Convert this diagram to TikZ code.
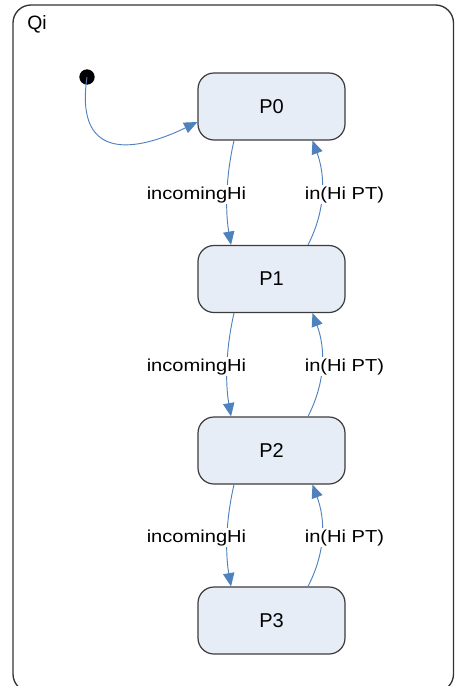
\documentclass[tikz,border=0pt]{standalone}
\usepackage{graphicx}
\usepackage{fontspec}
\setmainfont{Liberation Sans}
\usetikzlibrary{arrows.meta,calc}
\definecolor{edgeblue}{HTML}{4F81BD}
\definecolor{statefill}{HTML}{E7EDF7}
\definecolor{stateline}{HTML}{3C3C3C}
\begin{document}
\begin{tikzpicture}[x=0.75pt,y=-0.75pt,
  frame/.style={draw=black!80, line width=1pt, rounded corners=13.5pt},
  state/.style={draw=stateline, line width=0.9pt, fill=statefill,
    rounded corners=12pt, minimum width=110.25pt, minimum height=50.25pt,
    inner sep=0pt, font=\fontsize{15}{18}\selectfont},
  initial/.style={circle, fill=black, inner sep=0pt, minimum size=11.5pt},
  trans/.style={draw=edgeblue, line width=0.7pt,
    -{Triangle[length=10pt,width=8.5pt]}},
  guard/.style={fill=white, inner sep=1pt, font=\fontsize{13}{15}\selectfont},
  title/.style={inner sep=0pt, anchor=base west, font=\fontsize{14.5}{17}\selectfont}]
\useasboundingbox (0,0) rectangle (454,686);

% enclosing composite state
\draw[frame] (13,5) rectangle (453.5,692);
\node[title] (qi) at (27,29) {Qi};

% substates
\node[state] (P0) at (271.5,106.5) {P0};
\node[state] (P1) at (271.5,279)   {P1};
\node[state] (P2) at (271.5,450.5) {P2};
\node[state] (P3) at (271.5,620.5) {P3};

% initial pseudostate
\node[initial] (init) at (87,77) {};
\draw[trans] (init.center) .. controls +(-13,88) and +(-57.5,28) .. ($(P0.west)+(0,15.5)$);

% transitions between consecutive substates
\foreach \a/\b [count=\i] in {P0/P1,P1/P2,P2/P3}{
  \draw[trans] ($(\a.south)+(-37.5,0)$) .. controls +(-8,35) and +(-6,-35) .. ($(\b.north)+(-40.5,0)$);
  \draw[trans] ($(\b.north)+(36.5,0)$) .. controls +(18,-35) and +(13,35) .. ($(\a.south)+(41,0)$);
  \node[guard] (inc\i) at ($(\a.south)!0.52!(\b.north)+(-75,0)$) {\scalebox{1.16}[1]{incomingHi}};
  \node[guard] (hpt\i) at ($(\a.south)!0.52!(\b.north)+(73,0)$) {\scalebox{1.16}[1]{in(Hi PT)}};
}
\end{tikzpicture}
\end{document}
